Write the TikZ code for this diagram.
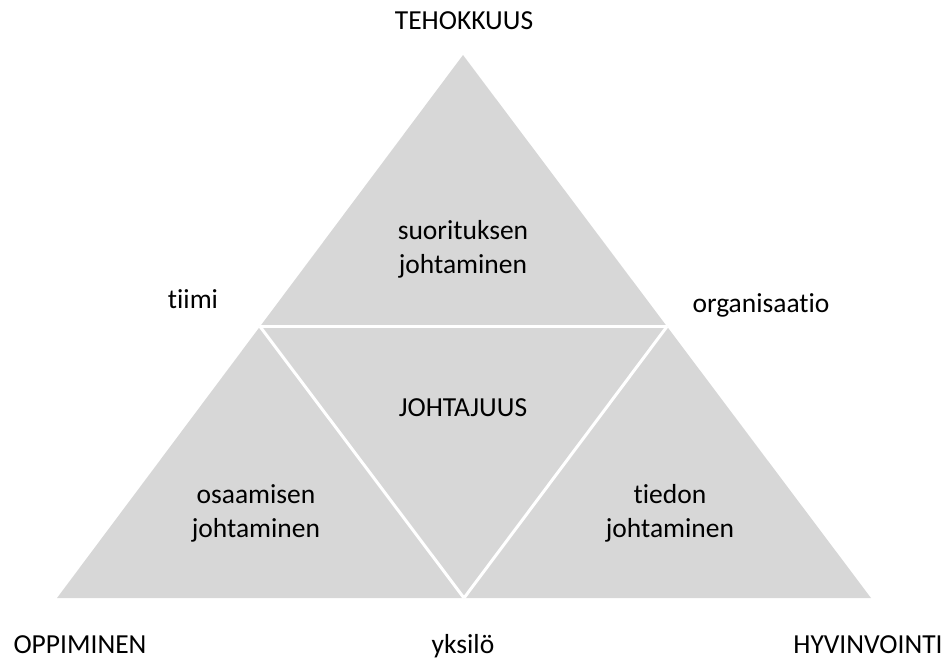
\documentclass[tikz,border=0pt]{standalone}
\usepackage{fontspec}
\setmainfont{Carlito}[Ligatures=NoCommon]
\usetikzlibrary{calc}
\definecolor{trifill}{RGB}{215,215,215}
\begin{document}
\begin{tikzpicture}[x=1pt,y=-1pt,
  lbl/.style={font=\fontsize{27.5}{34}\selectfont, text=black, inner sep=0pt, align=center},
  basel/.style={lbl, anchor=base},
  divider/.style={draw=white, line width=3pt}]
\useasboundingbox (0,0) rectangle (951,662);
\coordinate (T) at (463,55);
\coordinate (L) at (57,598);
\coordinate (R) at (871,598);
\coordinate (ML) at ($(T)!0.5!(L)$);
\coordinate (MR) at ($(T)!0.5!(R)$);
\coordinate (MB) at ($(L)!0.5!(R)$);
\fill[trifill] (T) -- (L) -- (R) -- cycle;
\draw[divider] (ML) -- (MR);
\draw[divider] (MR) -- (MB);
\draw[divider] (MB) -- (ML);
\node[basel] (teh) at (464,29) {TEHOKKUUS};
\node[basel] (tiimi) at (193,308) {tiimi};
\node[basel] (org) at (761,312) {organisaatio};
\node[basel] (opp) at (80,653) {OPPIMINEN};
\node[basel] (yks) at (463,653) {yksilö};
\node[basel] (hyv) at (868,653) {HYVINVOINTI};
\node[basel] (joht) at (463,416) {JOHTAJUUS};
\node[lbl] (suor) at (463,249) {suorituksen\\johtaminen};
\node[lbl] (osa) at (256,513) {osaamisen\\johtaminen};
\node[lbl] (tied) at (670,513) {tiedon\\johtaminen};
\end{tikzpicture}
\end{document}
